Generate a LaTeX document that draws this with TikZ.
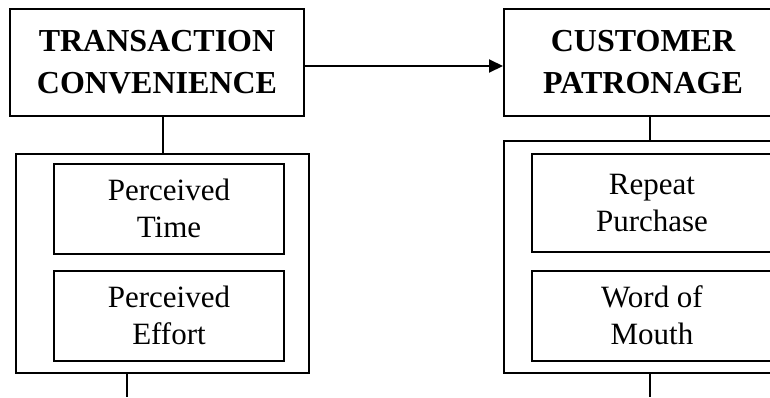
\documentclass[tikz,border=0pt]{standalone}
\usepackage{fontspec}
\setmainfont{Liberation Serif}
\usetikzlibrary{arrows.meta,positioning}
\begin{document}
\begin{tikzpicture}[x=1pt,y=-1pt,line width=2pt,line join=miter,>={Triangle[length=14pt,width=13pt]},
	head/.style={draw,align=center,inner sep=0pt,minimum width=294pt,minimum height=107pt,font=\fontsize{32}{42}\selectfont\bfseries},
	group/.style={draw,minimum width=293pt,minimum height=219pt},
	item/.style={draw,align=center,inner sep=0pt,minimum height=90pt,font=\fontsize{31}{37}\selectfont}]
	\useasboundingbox (0,0) rectangle (770,397);
	% top boxes
	\node[head] (tc) at (157,62.5) {TRANSACTION\\CONVENIENCE};
	\node[head,minimum width=278pt] (cp) at (643,62.5) {CUSTOMER\\PATRONAGE};
	\draw[->] ([yshift=-3.5pt]tc.east)--([yshift=-3.5pt]cp.west);
	% left group
	\node[group] (lg) at (162.5,263.5) {};
	\node[item,minimum width=230pt] (pt) at (169,208.5) {Perceived\\Time};
	\node[item,minimum width=230pt] (pe) at (169,315.5) {Perceived\\Effort};
	% right group
	\node[group,minimum height=232pt] (rg) at (650,257) {};
	\node[item,minimum width=240pt,minimum height=98pt] (rp) at (652,203) {Repeat\\Purchase};
	\node[item,minimum width=240pt] (wm) at (652,315.5) {Word of\\Mouth};
	% links
	\draw (lg.north)--(lg.north |- tc.south);
	\draw (rg.north)--(rg.north |- cp.south);
	\coordinate (lout) at (127,397);
	\coordinate (rout) at (650,397);
	\draw (lout |- lg.south)--(lout);
	\draw (rout |- rg.south)--(rout);
\end{tikzpicture}
\end{document}
